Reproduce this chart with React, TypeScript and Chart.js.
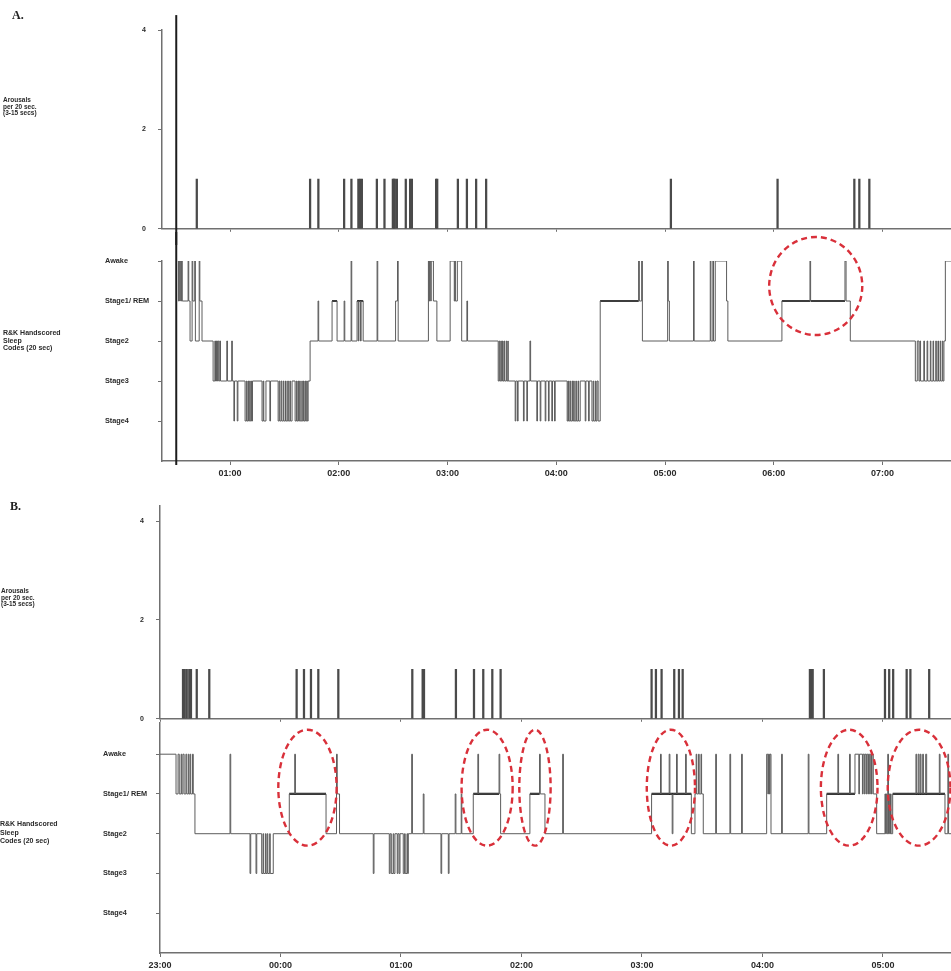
import React, { useEffect, useRef } from 'react';
import { Chart, registerables } from 'chart.js';
Chart.register(...registerables);

// ---------------- shared ----------------
const STAGE_VALUES = [5, 4, 3, 2, 1];
const STAGE_LABELS = ['Awake', 'Stage1/ REM', 'Stage2', 'Stage3', 'Stage4'];
const AROUSAL_TICKS = [0, 2, 4];
const AROUSAL_LABELS = ['0', '2', '4'];

// ---------------- Panel A ----------------
const A_X_MIN = 0.374;
const A_X_MAX = 7.63;
const A_HOUR_TICKS = [1, 2, 3, 4, 5, 6, 7];
const A_HOUR_LABELS = ['01:00', '02:00', '03:00', '04:00', '05:00', '06:00', '07:00'];
const A_LIGHTS_OFF = 0.505;
const A_AROUSALS = [0.694, 1.736, 1.812, 2.049, 2.116, 2.18, 2.196, 2.212, 2.35, 2.42, 2.497, 2.506, 2.515, 2.534, 2.616, 2.656, 2.672, 2.895, 2.905, 3.095, 3.178, 3.263, 3.355, 5.054, 6.035, 6.741, 6.787, 6.879];
const A_HYPNO = [
  [0.52, 5], [0.525, 4], [0.53, 5], [0.537, 4], [0.542, 5], [0.55, 4], [0.555, 5], [0.56, 4],
  [0.614, 5], [0.62, 4], [0.632, 3], [0.651, 5], [0.657, 4], [0.675, 5], [0.681, 3], [0.716, 5], [0.722, 4], [0.742, 3],
  [0.844, 2], [0.86, 3], [0.866, 2], [0.875, 3], [0.88, 2], [0.885, 3], [0.895, 2], [0.905, 3], [0.912, 2], [0.97, 3], [0.976, 2], [1.015, 3], [1.021, 2],
  [1.035, 1], [1.041, 2], [1.066, 1], [1.072, 2],
  [1.138, 1], [1.15, 2], [1.155, 1], [1.165, 2], [1.17, 1], [1.18, 2], [1.186, 1], [1.196, 2], [1.2, 1], [1.206, 2],
  [1.294, 1], [1.305, 2], [1.31, 1], [1.33, 2],
  [1.366, 1], [1.372, 2],
  [1.442, 1], [1.452, 2], [1.458, 1], [1.47, 2], [1.476, 1], [1.49, 2], [1.495, 1], [1.51, 2], [1.515, 1], [1.53, 2], [1.536, 1], [1.55, 2], [1.555, 1], [1.57, 2],
  [1.598, 1], [1.61, 2], [1.615, 1], [1.625, 2], [1.63, 1], [1.64, 2], [1.645, 1], [1.66, 2], [1.664, 1], [1.675, 2], [1.68, 1], [1.69, 2], [1.695, 1], [1.705, 2], [1.71, 1], [1.718, 2],
  [1.736, 3],
  [1.809, 4], [1.815, 3],
  [1.938, 4], [1.984, 3],
  [2.049, 4], [2.055, 3],
  [2.113, 5], [2.119, 3],
  [2.168, 4], [2.18, 3], [2.185, 4], [2.2, 3], [2.205, 4], [2.224, 3],
  [2.352, 5], [2.358, 3],
  [2.522, 4], [2.54, 5], [2.546, 3],
  [2.824, 5], [2.83, 4], [2.835, 5], [2.845, 4], [2.85, 5], [2.87, 4], [2.902, 3],
  [3.024, 5], [3.062, 4], [3.068, 5], [3.072, 4], [3.09, 5], [3.13, 3],
  [3.178, 4], [3.184, 3],
  [3.466, 2], [3.475, 3], [3.48, 2], [3.49, 3], [3.495, 2], [3.505, 3], [3.51, 2], [3.52, 3], [3.525, 2], [3.54, 3], [3.545, 2], [3.555, 3], [3.558, 2],
  [3.622, 1], [3.628, 2], [3.643, 1], [3.649, 2], [3.698, 1], [3.704, 2], [3.729, 1], [3.735, 2],
  [3.758, 3], [3.764, 2],
  [3.821, 1], [3.827, 2], [3.852, 1], [3.858, 2], [3.898, 1], [3.904, 2], [3.928, 1], [3.934, 2], [3.959, 1], [3.965, 2], [3.984, 1], [3.99, 2],
  [4.1, 1], [4.108, 2], [4.112, 1], [4.125, 2], [4.13, 1], [4.145, 2], [4.15, 1], [4.16, 2], [4.165, 1], [4.18, 2], [4.185, 1], [4.2, 2], [4.205, 1], [4.22, 2],
  [4.266, 1], [4.272, 2], [4.297, 1], [4.303, 2], [4.328, 1], [4.34, 2], [4.345, 1], [4.36, 2], [4.365, 1], [4.375, 2], [4.385, 1], [4.404, 4],
  [4.757, 5], [4.764, 4], [4.785, 5], [4.792, 3],
  [5.024, 5], [5.03, 4], [5.04, 3],
  [5.262, 5], [5.268, 3],
  [5.416, 5], [5.422, 3], [5.44, 5], [5.446, 3], [5.462, 5], [5.566, 4], [5.578, 3],
  [6.075, 4], [6.333, 5], [6.339, 4], [6.655, 5], [6.665, 4], [6.704, 3],
  [7.302, 2], [7.32, 3], [7.335, 2], [7.345, 3], [7.35, 2], [7.38, 3], [7.386, 2], [7.41, 3], [7.416, 2], [7.44, 3], [7.445, 2], [7.465, 3], [7.47, 2], [7.49, 3], [7.495, 2], [7.51, 3], [7.515, 2], [7.53, 3], [7.535, 2], [7.55, 3], [7.555, 2], [7.565, 3],
  [7.578, 5], [7.7, 5],
];
const A_REM = [[1.938, 1.984], [2.168, 2.224], [4.404, 4.757], [6.075, 6.333], [6.339, 6.655]];
// ellipse: [centre time, centre stage, radius hours, radius stages]
const A_CIRCLES = [[6.386, 4.375, 0.428, 1.225]];

// ---------------- Panel B ----------------
const B_X_MIN = 23.0;
const B_X_MAX = 29.565;
const B_HOUR_TICKS = [23, 24, 25, 26, 27, 28, 29];
const B_HOUR_LABELS = ['23:00', '00:00', '01:00', '02:00', '03:00', '04:00', '05:00'];
const B_AROUSALS = [23.191, 23.205, 23.222, 23.243, 23.257, 23.305, 23.409, 24.134, 24.195, 24.253, 24.314, 24.48, 25.094, 25.18, 25.191, 25.456, 25.606, 25.683, 25.758, 25.827, 27.08, 27.116, 27.163, 27.268, 27.307, 27.338, 28.394, 28.405, 28.417, 28.51, 29.017, 29.052, 29.085, 29.197, 29.228, 29.384];
const B_HYPNO = [
  [23.0, 5], [23.133, 4], [23.15, 5], [23.16, 4], [23.175, 5], [23.18, 4], [23.19, 5], [23.2, 4], [23.215, 5], [23.222, 4], [23.235, 5], [23.24, 4], [23.25, 5], [23.255, 4], [23.27, 5], [23.276, 4], [23.29, 3],
  [23.581, 5], [23.587, 3],
  [23.747, 2], [23.753, 3], [23.797, 2], [23.803, 3], [23.844, 2], [23.855, 3], [23.86, 2], [23.875, 3], [23.88, 2], [23.89, 3], [23.895, 2], [23.91, 3], [23.915, 2], [23.94, 3],
  [24.073, 4], [24.118, 5], [24.124, 4], [24.378, 3],
  [24.465, 5], [24.471, 4], [24.49, 3],
  [24.77, 2], [24.776, 3], [24.903, 2], [24.91, 3], [24.92, 2], [24.935, 3], [24.94, 2], [24.95, 3], [24.969, 2], [24.975, 3], [24.985, 2], [24.992, 3], [25.019, 2], [25.03, 3], [25.035, 2], [25.05, 3], [25.055, 2], [25.061, 3],
  [25.089, 5], [25.095, 3], [25.185, 4], [25.191, 3],
  [25.332, 2], [25.338, 3], [25.393, 2], [25.399, 3],
  [25.45, 4], [25.456, 3], [25.5, 4], [25.505, 3],
  [25.6, 4], [25.638, 5], [25.644, 4], [25.814, 5], [25.82, 4], [25.827, 3],
  [26.07, 4], [26.15, 5], [26.156, 4], [26.195, 3],
  [26.342, 5], [26.348, 3],
  [27.08, 4], [27.154, 5], [27.16, 4], [27.226, 5], [27.232, 4], [27.251, 3], [27.257, 4], [27.287, 5], [27.293, 4], [27.362, 5], [27.368, 4], [27.41, 3], [27.44, 4], [27.45, 5], [27.455, 4], [27.47, 5], [27.475, 4], [27.49, 5], [27.495, 4], [27.509, 3],
  [27.612, 5], [27.618, 3], [27.73, 5], [27.736, 3], [27.827, 5], [27.833, 3],
  [28.035, 5], [28.045, 4], [28.05, 5], [28.058, 4], [28.063, 5], [28.071, 3],
  [28.159, 5], [28.165, 3], [28.38, 5], [28.386, 3],
  [28.533, 4], [28.626, 5], [28.632, 4], [28.723, 5], [28.729, 4], [28.768, 5], [28.8, 4], [28.805, 5], [28.83, 4], [28.835, 5], [28.845, 4], [28.85, 5], [28.86, 4], [28.865, 5], [28.875, 4], [28.88, 5], [28.89, 4], [28.895, 5], [28.905, 4], [28.91, 5], [28.92, 4], [28.948, 3],
  [29.017, 4], [29.022, 3], [29.028, 4], [29.033, 3], [29.04, 5], [29.046, 3], [29.052, 4], [29.057, 3], [29.063, 4], [29.068, 3], [29.081, 4],
  [29.274, 5], [29.28, 4], [29.293, 5], [29.3, 4], [29.31, 5], [29.316, 4], [29.33, 5], [29.336, 4], [29.355, 5], [29.363, 4], [29.468, 5], [29.474, 4], [29.515, 3], [29.539, 5], [29.545, 3], [29.7, 3],
];
const B_REM = [[24.073, 24.378], [25.6, 25.814], [26.07, 26.15], [27.08, 27.41], [28.533, 28.768], [29.081, 29.515]];
const B_CIRCLES = [
  [24.224, 4.158, 0.242, 1.458],
  [25.715, 4.158, 0.212, 1.458],
  [26.112, 4.158, 0.13, 1.458],
  [27.24, 4.158, 0.2, 1.458],
  [28.72, 4.158, 0.235, 1.458],
  [29.3, 4.158, 0.26, 1.458],
];

// ---------------- styling ----------------
const SANS = '"Liberation Sans", Arial, sans-serif';
const AXIS = '#707070';
const TRACE = '#5c5c5c';
const TEXT = '#2a2a2a';

function makeEllipsePlugin(items: number[][]) {
  return {
    id: 'ellipses',
    afterDatasetsDraw(chart: any) {
      const { ctx, scales } = chart;
      const x = scales.x, y = scales.y;
      ctx.save();
      ctx.strokeStyle = '#d9303a';
      ctx.lineWidth = 2.4;
      ctx.setLineDash([6, 4]);
      for (const [t, s, rt, rs] of items) {
        const cx = x.getPixelForValue(t);
        const cy = y.getPixelForValue(s);
        const rx = Math.abs(x.getPixelForValue(t + rt) - cx);
        const ry = Math.abs(y.getPixelForValue(s + rs) - cy);
        ctx.beginPath();
        ctx.ellipse(cx, cy, rx, ry, 0, 0, Math.PI * 2);
        ctx.stroke();
      }
      ctx.restore();
    },
  };
}

function arousalConfig(p: any): any {
  const datasets: any[] = [
    {
      type: 'bar',
      data: p.arousals.map((t: number) => ({ x: t, y: 1 })),
      backgroundColor: '#4a4a4a',
      barThickness: 1.6,
      borderWidth: 0,
    },
  ];
  if (p.lights != null) {
    datasets.push({
      type: 'line',
      data: [{ x: p.lights, y: -0.4 }, { x: p.lights, y: 4.3 }],
      borderColor: '#1c1c1c',
      borderWidth: 2,
      pointRadius: 0,
      clip: false,
    });
  }
  return {
    type: 'bar',
    data: { datasets },
    options: {
      animation: false,
      responsive: false,
      maintainAspectRatio: false,
      layout: { padding: { top: p.padTop, left: 0, right: 0, bottom: 0 } },
      plugins: { legend: { display: false }, tooltip: { enabled: false } },
      scales: {
        x: {
          type: 'linear',
          min: p.xMin,
          max: p.xMax,
          offset: false,
          afterBuildTicks: (s: any) => { s.ticks = p.hourTicks.map((v: number) => ({ value: v })); },
          afterFit: (s: any) => { s.height = p.xH; },
          ticks: { display: false },
          grid: { display: true, drawOnChartArea: false, drawTicks: true, tickLength: 3, color: AXIS, offset: false },
          border: { display: true, color: AXIS, width: 1.5 },
        },
        y: {
          type: 'linear',
          min: 0,
          max: p.yMax,
          afterBuildTicks: (s: any) => { s.ticks = AROUSAL_TICKS.map((v) => ({ value: v })); },
          afterFit: (s: any) => { s.width = p.axisX; },
          ticks: {
            callback: (_v: any, i: number) => AROUSAL_LABELS[i],
            font: { family: SANS, size: 7, weight: 'bold' },
            color: TEXT,
            padding: 12,
          },
          grid: { drawOnChartArea: false, drawTicks: true, tickLength: 4, color: AXIS },
          border: { display: true, color: AXIS, width: 1.5 },
        },
      },
    },
  };
}

function hypnoConfig(p: any): any {
  const remPts: any[] = [];
  for (const [s, e] of p.rem) {
    remPts.push({ x: s, y: 4 }, { x: e, y: 4 }, { x: e, y: null });
  }
  const datasets: any[] = [
    {
      data: p.hypno.map(([t, s]: number[]) => ({ x: t, y: s })),
      stepped: true,
      borderColor: TRACE,
      borderWidth: 1,
      pointRadius: 0,
      fill: false,
    },
    {
      data: remPts,
      borderColor: '#1e1e1e',
      borderWidth: 2.2,
      pointRadius: 0,
      spanGaps: false,
      fill: false,
    },
  ];
  if (p.lights != null) {
    datasets.push({
      data: [{ x: p.lights, y: -0.1 }, { x: p.lights, y: 5.8 }],
      borderColor: '#1c1c1c',
      borderWidth: 2,
      pointRadius: 0,
      clip: false,
    });
  }
  return {
    type: 'line',
    data: { datasets },
    plugins: [makeEllipsePlugin(p.circles)],
    options: {
      animation: false,
      responsive: false,
      maintainAspectRatio: false,
      layout: { padding: { top: p.padTop, left: p.padLeft, right: 0, bottom: 0 } },
      plugins: { legend: { display: false }, tooltip: { enabled: false } },
      scales: {
        x: {
          type: 'linear',
          min: p.xMin,
          max: p.xMax,
          afterBuildTicks: (s: any) => { s.ticks = p.hourTicks.map((v: number) => ({ value: v })); },
          afterFit: (s: any) => { s.height = p.xH; },
          ticks: {
            callback: (_v: any, i: number) => p.hourLabels[i],
            autoSkip: false,
            maxRotation: 0,
            font: { family: SANS, size: 9, weight: 'bold' },
            color: TEXT,
            padding: 3,
          },
          grid: { drawOnChartArea: false, drawTicks: true, tickLength: 4, color: AXIS },
          border: { display: true, color: AXIS, width: 1.5 },
        },
        y: {
          type: 'linear',
          min: 0,
          max: p.yMax,
          afterBuildTicks: (s: any) => { s.ticks = STAGE_VALUES.map((v) => ({ value: v })); },
          afterFit: (s: any) => { s.width = p.yW; },
          ticks: {
            callback: (_v: any, i: number) => STAGE_LABELS[i],
            crossAlign: 'far',
            font: { family: SANS, size: 7.3, weight: 'bold' },
            color: TEXT,
          },
          grid: { drawOnChartArea: false, drawTicks: true, tickLength: 4, color: AXIS },
          border: { display: true, color: AXIS, width: 1.5 },
        },
      },
    },
  };
}

const abs = (left: number, top: number): React.CSSProperties => ({ position: 'absolute', left, top });
const smallLabel: React.CSSProperties = { fontFamily: SANS, fontWeight: 'bold', color: TEXT, whiteSpace: 'nowrap' };

export default function App() {
  const aAr = useRef<HTMLCanvasElement>(null);
  const aHy = useRef<HTMLCanvasElement>(null);
  const bAr = useRef<HTMLCanvasElement>(null);
  const bHy = useRef<HTMLCanvasElement>(null);

  useEffect(() => {
    const charts = [
      new Chart(aAr.current as any, arousalConfig({
        arousals: A_AROUSALS, lights: A_LIGHTS_OFF, xMin: A_X_MIN, xMax: A_X_MAX, hourTicks: A_HOUR_TICKS,
        padTop: 30, xH: 14, axisX: 162, yMax: 4,
      })),
      new Chart(aHy.current as any, hypnoConfig({
        hypno: A_HYPNO, rem: A_REM, circles: A_CIRCLES, lights: A_LIGHTS_OFF,
        xMin: A_X_MIN, xMax: A_X_MAX, hourTicks: A_HOUR_TICKS, hourLabels: A_HOUR_LABELS,
        padTop: 29, padLeft: 105, yW: 57, xH: 29, yMax: 5,
      })),
      new Chart(bAr.current as any, arousalConfig({
        arousals: B_AROUSALS, lights: null, xMin: B_X_MIN, xMax: B_X_MAX, hourTicks: B_HOUR_TICKS,
        padTop: 15, xH: 14, axisX: 160, yMax: 4.3,
      })),
      new Chart(bHy.current as any, hypnoConfig({
        hypno: B_HYPNO, rem: B_REM, circles: B_CIRCLES, lights: null,
        xMin: B_X_MIN, xMax: B_X_MAX, hourTicks: B_HOUR_TICKS, hourLabels: B_HOUR_LABELS,
        padTop: 6, padLeft: 103, yW: 57, xH: 18, yMax: 5.8,
      })),
    ];
    return () => charts.forEach((c) => c.destroy());
  }, []);

  return (
    <div style={{ position: 'absolute', left: 0, top: 0, width: 951, height: 971, background: '#fff', overflow: 'hidden' }}>
      <canvas ref={aAr} width={951} height={245} style={abs(0, 0)} />
      <canvas ref={aHy} width={951} height={258} style={abs(0, 232)} />
      <canvas ref={bAr} width={951} height={245} style={abs(0, 490)} />
      <canvas ref={bHy} width={951} height={256} style={abs(0, 715)} />

      <div style={{ ...abs(12, 8), fontFamily: '"Liberation Serif", serif', fontWeight: 'bold', fontSize: 12, color: '#222' }}>A.</div>
      <div style={{ ...abs(3, 97), ...smallLabel, fontSize: 6.5, lineHeight: '6.5px' }}>
        Arousals<br />per 20 sec.<br />(3-15 secs)
      </div>
      <div style={{ ...abs(3, 329), ...smallLabel, fontSize: 7, lineHeight: '7.5px' }}>
        R&amp;K Handscored<br />Sleep<br />Codes (20 sec)
      </div>

      <div style={{ ...abs(10, 499), fontFamily: '"Liberation Serif", serif', fontWeight: 'bold', fontSize: 12, color: '#222' }}>B.</div>
      <div style={{ ...abs(1, 588), ...smallLabel, fontSize: 6.5, lineHeight: '6.5px' }}>
        Arousals<br />per 20 sec.<br />(3-15 secs)
      </div>
      <div style={{ ...abs(0, 820), ...smallLabel, fontSize: 7, lineHeight: '8.5px' }}>
        R&amp;K Handscored<br />Sleep<br />Codes (20 sec)
      </div>
    </div>
  );
}
